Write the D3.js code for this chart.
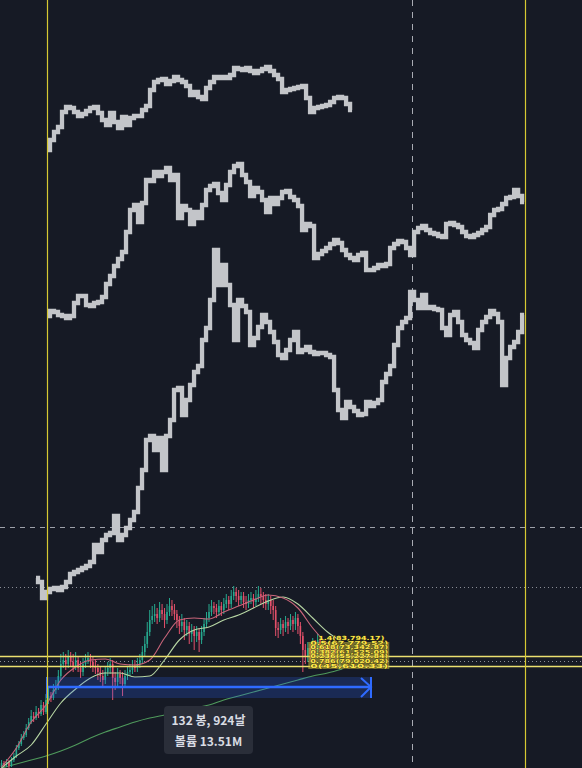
<!DOCTYPE html>
<html>
<head>
<meta charset="utf-8">
<script src="https://cdn.jsdelivr.net/npm/d3@7"></script>
<style>
  html, body { margin: 0; padding: 0; background: #161a25; }
  svg { display: block; }
</style>
</head>
<body>
<div id="chart"></div>
<script>
// size of the chart
let svgWidth = 582;
let svgHeight = 768;

// measuring tool: bars, days and volume of the measured range
let measureBars = 132;
let measureDays = 924;
let measureVolume = "13.51M";
let measureTop = 123;
let measureMid = 113;
let measureBottom = 102;

// weekly candles (price units), first candle is 18 bars before the measure start
let candleStart = -18;
let candleFirstOpen = 33;
let candleClose = [
  37,35,38,34,40,44,52,56,62,65,
  72,78,84,82,88,86,95,88,100,104,
  102,110,114,124,136,140,136,144,138,134,
  140,132,128,136,140,142,138,134,132,128,
  124,120,128,132,136,122,118,126,122,116,
  124,128,130,134,132,136,140,148,156,168,
  180,184,186,182,190,186,180,188,194,190,
  186,180,174,178,170,174,166,170,164,168,
  160,168,176,182,188,194,192,188,194,190,
  196,200,196,204,208,204,200,204,198,196,
  200,202,198,202,206,204,200,196,200,194,
  190,172,170,176,172,178,174,180,176,182,
  174,164,150,144,152,146,156,150,160,148,
  154,144,150,142,152,146,140,148
];
let candleHigh = [
  40,39,41,40,43,47,55,59,66,69,
  76,82,90,88,94,92,100,98,106,112,
  108,116,120,130,146,148,146,150,148,146,
  148,144,138,142,146,148,146,144,140,136,
  134,130,134,138,142,140,128,132,130,128,
  130,134,136,140,140,142,146,154,164,178,
  190,194,196,192,198,196,192,196,202,200,
  196,190,184,186,182,180,178,176,174,174,
  172,174,182,188,196,200,198,196,200,198,
  202,206,204,210,214,212,210,208,208,204,
  206,208,206,210,214,212,208,206,206,204,
  200,194,178,182,180,184,182,186,184,188,
  186,178,168,156,158,156,162,160,166,164,
  160,158,156,154,158,156,150,154
];
let candleLow = [
  31,33,33,32,33,38,42,50,54,60,
  63,70,76,78,80,82,84,85,86,96,
  98,100,106,110,120,132,130,132,134,128,
  130,128,122,124,132,136,132,128,126,120,
  118,112,116,124,126,100,110,114,116,104,
  112,120,124,126,128,128,132,136,144,152,
  164,176,178,176,178,180,172,176,184,184,
  180,172,166,168,160,164,156,158,150,158,
  148,156,164,172,178,184,186,182,184,184,
  186,192,190,192,200,198,194,196,192,190,
  192,196,192,194,198,196,192,190,190,186,
  180,164,162,166,164,168,166,170,168,170,
  166,156,128,136,138,138,140,142,144,140,
  142,136,138,134,136,138,132,134
];

// moving averages, one value every 6 candles
let maStep = 6;
let maFast = [33,52,78,95,120,133,140,141,136,135,140,162,180,182,181,188,194,200,205,202,192,172,156,148];
let maSlow = [32,44,55,76,97,111,122,127,127,123,124,140,160,170,173,180,185,192,199,203,196,182,168,158];
let maLong = [32,36,40,44,49,55,62,68,73,78,82,85,88,92,95,100,104,108,112,116,120,124,127,131];

// projected (ghost) price paths, one value every 1.62 bars
let ghostStep = 1.62;
let ghostTopStart = 0.81;
let ghostTop = [
  650,660,668,673,688,693,692,688,684,686,
  689,692,693,687,680,675,687,678,672,683,
  675,682,684,684,690,694,710,718,720,721,
  716,719,723,720,718,714,705,708,703,701,
  712,718,723,722,723,722,725,732,731,730,
  732,729,727,729,731,733,729,725,721,708,
  710,711,712,713,714,702,688,692,693,694,
  695,698,702,703,702,696,690
];
let ghostMidStart = 0.81;
let ghostMid = [
  484,489,488,485,484,482,484,497,504,504,
  495,494,497,498,503,516,524,534,541,548,
  568,590,595,578,597,620,619,628,624,628,
  632,620,625,582,594,590,576,588,582,595,
  610,614,616,607,600,615,628,634,636,625,
  618,604,612,608,600,588,602,596,602,608,
  609,603,600,594,570,576,574,542,546,549,
  552,556,560,557,550,545,542,540,545,547,
  530,530,532,535,534,536,552,556,559,558,
  552,545,568,572,574,570,567,566,564,563,
  576,577,575,573,568,564,563,565,567,570,
  573,585,590,591,596,602,603,610,604,598
];
let ghostLowStart = -4.05;
let ghostLow = [
  222,218,202,208,211,212,210,213,218,226,
  228,230,232,234,238,255,248,260,265,267,
  284,260,265,272,280,288,312,330,360,364,
  350,362,330,364,380,410,412,385,400,415,
  428,434,460,472,500,550,515,535,515,495,
  460,500,494,488,455,462,473,485,478,468,
  458,445,442,450,460,468,448,450,453,448,
  446,447,447,445,443,410,390,382,398,393,
  389,385,386,398,394,397,400,418,426,434,
  455,472,478,482,508,500,492,505,492,493,
  491,490,472,465,485,488,478,465,460,457,
  452,470,478,483,489,486,478,415,442,453,
  458,468,485
];

// horizontal levels (price units) and vertical markers (bar index)
let levelDashed = 273;
let levelDotted = 213;
let levelYellow = [144, 134];
let levelYellowDot = 139;
let markerYellow = [0.4, 193.9];
let markerDashed = 148.2;

// fib level labels piled on top of each other
let fibLabels = [
  "1.4(83,794.17)",
  "0.5(67,779.52)",
  "0.618(73,342.87)",
  "0.382(61,525.09)",
  "0.236(55,227.84)",
  "0.786(79,020.42)",
  "0(45,610.33)"
];

let x = d3.scaleLinear().domain([0, measureBars]).range([46, 372]);
let y = d3.scaleLinear().domain([32, 800]).range([svgHeight, 0]);

let svg = d3.select('#chart')
  .append('svg')
  .attr('width', svgWidth)
  .attr('height', svgHeight);

svg.append('rect')
  .attr('width', svgWidth)
  .attr('height', svgHeight)
  .attr('fill', '#161a25');

// horizontal guide lines
function hLine(v, color, dash, w) {
  svg.append('line')
    .attr('x1', 0).attr('x2', svgWidth)
    .attr('y1', Math.round(y(v)) + 0.5).attr('y2', Math.round(y(v)) + 0.5)
    .attr('stroke', color)
    .attr('stroke-width', w || 1)
    .attr('stroke-dasharray', dash);
}
hLine(levelDashed, '#9ea1aa', '5,5');
hLine(levelDotted, '#8a8d96', '1,3');
hLine(levelYellowDot, '#8a8d96', '1,3');

// dashed vertical line
svg.append('line')
  .attr('x1', Math.round(x(markerDashed)) + 0.5).attr('x2', Math.round(x(markerDashed)) + 0.5)
  .attr('y1', 0).attr('y2', svgHeight)
  .attr('stroke', '#a9acb4')
  .attr('stroke-dasharray', '6,6');

// ghost paths drawn as thick step lines
let ghostLine = d3.line()
  .x(d => x(d.b))
  .y(d => y(d.v))
  .curve(d3.curveStep);

[[ghostTop, ghostTopStart], [ghostMid, ghostMidStart], [ghostLow, ghostLowStart]].forEach(function (g) {
  let pts = g[0].map((v, i) => ({ b: g[1] + i * ghostStep, v: v }));
  svg.append('path')
    .attr('d', ghostLine(pts))
    .attr('fill', 'none')
    .attr('stroke', '#c3c5c9')
    .attr('stroke-width', 4.3)
    .attr('stroke-linejoin', 'miter');
});

// moving averages
let maLine = d3.line()
  .x((d, i) => x(candleStart + i * maStep))
  .y(d => y(d))
  .curve(d3.curveMonotoneX);

function drawMa(values, color) {
  svg.append('path')
    .attr('d', maLine(values))
    .attr('fill', 'none')
    .attr('stroke', color)
    .attr('stroke-width', 1.1);
}
drawMa(maLong, '#4f9a5c');

// candles
let candles = candleClose.map(function (c, i) {
  return {
    b: candleStart + i,
    o: i === 0 ? candleFirstOpen : candleClose[i - 1],
    c: c,
    h: candleHigh[i],
    l: candleLow[i]
  };
});

let cg = svg.append('g');
cg.selectAll('line')
  .data(candles)
  .enter()
  .append('line')
  .attr('x1', d => x(d.b))
  .attr('x2', d => x(d.b))
  .attr('y1', d => y(d.h))
  .attr('y2', d => y(d.l))
  .attr('stroke', d => d.c >= d.o ? '#26a98f' : '#e4506a')
  .attr('stroke-width', 1);

cg.selectAll('rect')
  .data(candles)
  .enter()
  .append('rect')
  .attr('x', d => x(d.b) - 0.8)
  .attr('width', 1.6)
  .attr('y', d => y(Math.max(d.o, d.c)))
  .attr('height', d => Math.max(1, Math.abs(y(d.o) - y(d.c))))
  .attr('fill', d => d.c >= d.o ? '#26a98f' : '#e4506a');

drawMa(maSlow, '#b7d6a4');
drawMa(maFast, '#c9657a');

// measuring tool band and arrow
let mx0 = x(0), mx1 = x(measureBars);
svg.append('rect')
  .attr('x', mx0)
  .attr('y', y(measureTop))
  .attr('width', mx1 - mx0)
  .attr('height', y(measureBottom) - y(measureTop))
  .attr('fill', '#2962ff')
  .attr('opacity', 0.22);
svg.append('line')
  .attr('x1', mx0).attr('x2', mx1)
  .attr('y1', y(measureMid)).attr('y2', y(measureMid))
  .attr('stroke', '#2f6bff')
  .attr('stroke-width', 2.5);
svg.append('line')
  .attr('x1', mx0 + 1).attr('x2', mx0 + 1)
  .attr('y1', y(measureTop)).attr('y2', y(measureBottom))
  .attr('stroke', '#2f6bff')
  .attr('stroke-width', 2);
svg.append('line')
  .attr('x1', mx1 - 1).attr('x2', mx1 - 1)
  .attr('y1', y(measureTop)).attr('y2', y(measureBottom))
  .attr('stroke', '#2f6bff')
  .attr('stroke-width', 2);
svg.append('path')
  .attr('d', `M${mx1 - 11},${y(measureTop) + 1} L${mx1 - 1},${y(measureMid)} L${mx1 - 11},${y(measureBottom) - 1}`)
  .attr('fill', 'none')
  .attr('stroke', '#2f6bff')
  .attr('stroke-width', 2);

// yellow horizontal and vertical lines
levelYellow.forEach(function (v) {
  hLine(v, '#ebe070', null, 1.3);
});
markerYellow.forEach(function (b) {
  svg.append('line')
    .attr('x1', Math.round(x(b)) + 0.5).attr('x2', Math.round(x(b)) + 0.5)
    .attr('y1', 0).attr('y2', svgHeight)
    .attr('stroke', '#d6c832')
    .attr('stroke-width', 1.2);
});

// fib labels, stretched flat so the stack stays readable
let lx = x(106.2);
svg.append('rect')
  .attr('x', lx)
  .attr('y', y(158))
  .attr('width', 81)
  .attr('height', 27)
  .attr('fill', '#d8c63e')
  .attr('opacity', 0.5);
svg.selectAll('text.fib')
  .data(fibLabels)
  .enter()
  .append('text')
  .attr('class', 'fib')
  .attr('x', (d, i) => lx + (i === 0 ? 10 : 2))
  .attr('y', (d, i) => y(164) + 4 + i * 4.6)
  .attr('font-family', 'DejaVu Sans, sans-serif')
  .attr('font-size', 5.6)
  .attr('font-weight', 'bold')
  .attr('textLength', (d, i) => i === 0 ? 66 : 78)
  .attr('lengthAdjust', 'spacingAndGlyphs')
  .attr('fill', '#ffe84a')
  .attr('stroke', '#3b3510')
  .attr('stroke-width', 0.6)
  .attr('paint-order', 'stroke')
  .text(d => d);

// tooltip of the measuring tool
let tip = svg.append('g').attr('transform', 'translate(164,706)');
tip.append('rect')
  .attr('width', 89)
  .attr('height', 48)
  .attr('rx', 4)
  .attr('fill', '#2a2e39');
tip.append('text')
  .attr('x', 44.5).attr('y', 19)
  .attr('text-anchor', 'middle')
  .attr('font-family', 'Noto Sans CJK KR, sans-serif')
  .attr('font-size', 12)
  .attr('font-weight', 'bold')
  .attr('fill', '#d9dce3')
  .text(measureBars + ' 봉, ' + measureDays + '날');
tip.append('text')
  .attr('x', 44.5).attr('y', 40)
  .attr('text-anchor', 'middle')
  .attr('font-family', 'Noto Sans CJK KR, sans-serif')
  .attr('font-size', 12)
  .attr('font-weight', 'bold')
  .attr('fill', '#d9dce3')
  .text('볼륨 ' + measureVolume);
</script>
</body>
</html>
